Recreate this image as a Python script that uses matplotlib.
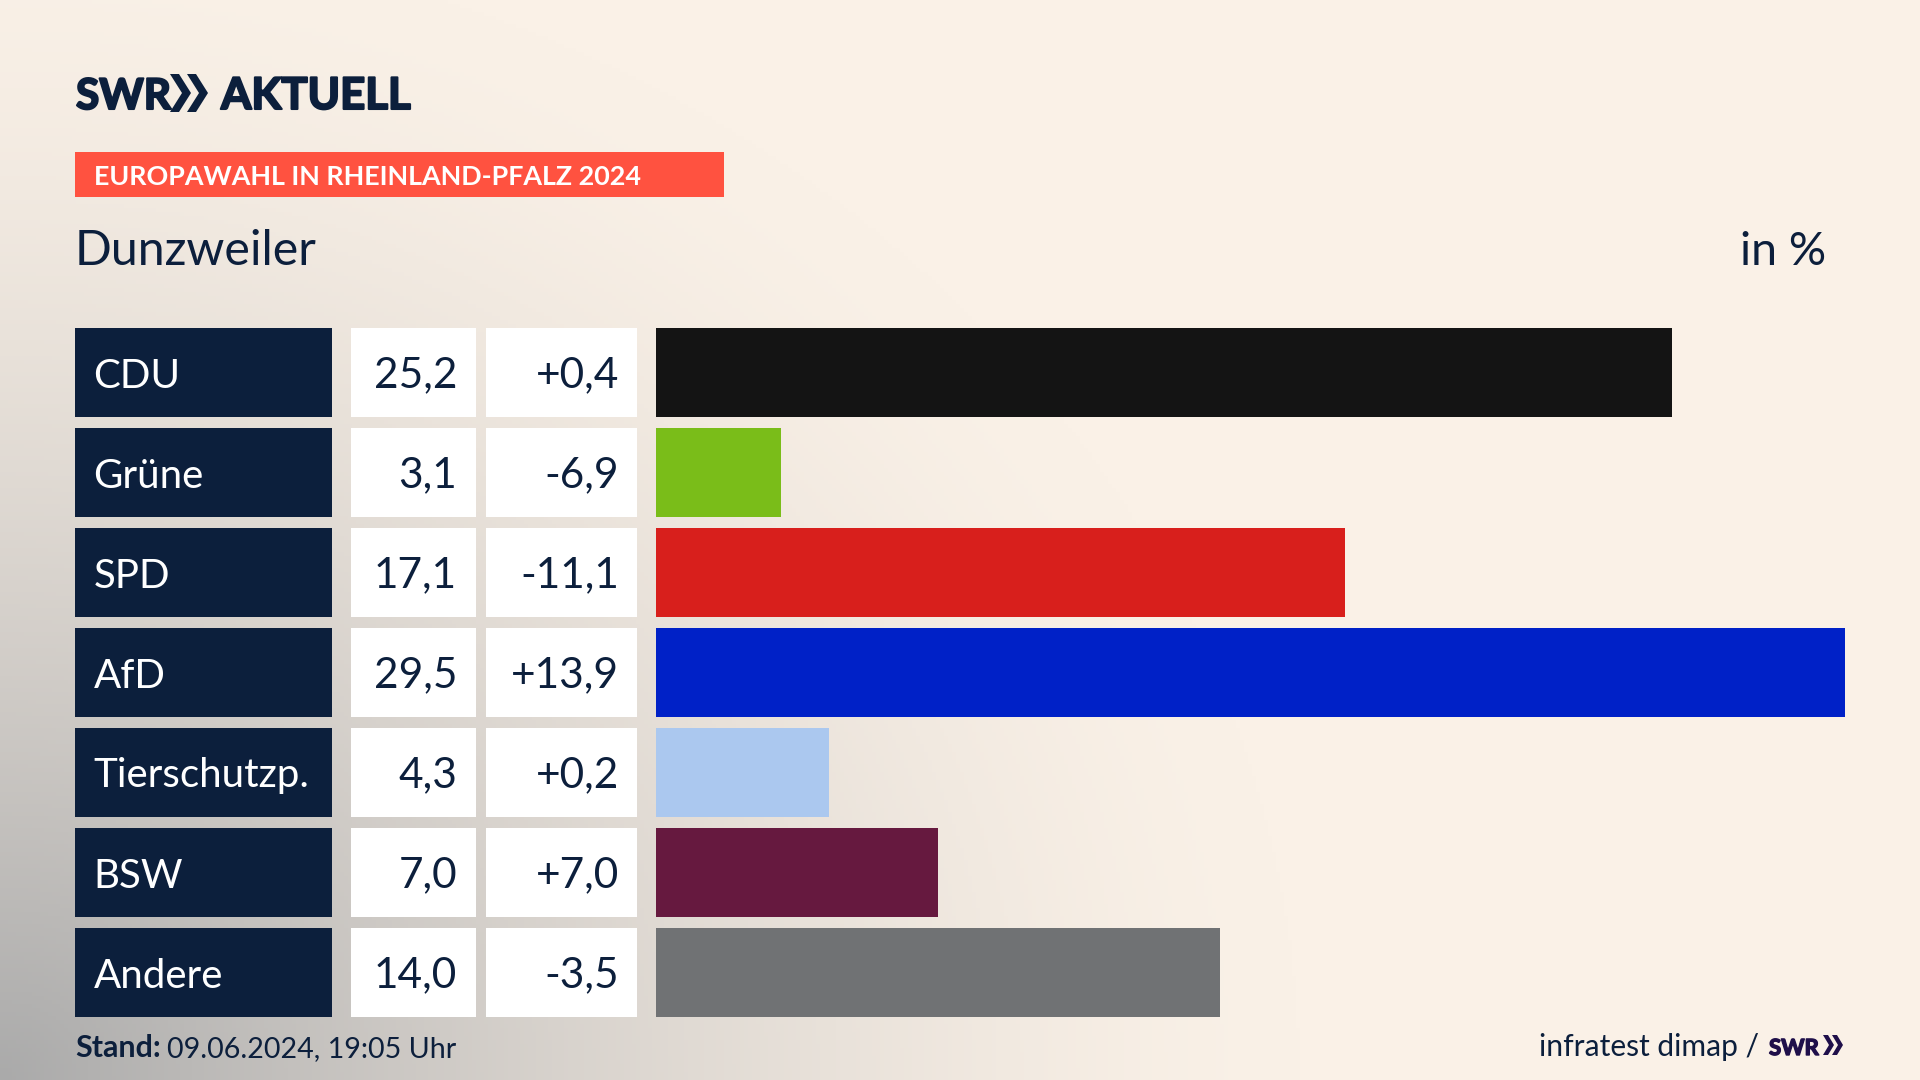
import matplotlib
matplotlib.use('Agg')
import matplotlib.pyplot as plt
import matplotlib.patheffects as pe
import numpy as np
from matplotlib.patches import Polygon, Rectangle

# Daten
parteien = ['CDU', 'Grüne', 'SPD', 'AfD', 'Tierschutzp.', 'BSW', 'Andere']
anteile = [25.2, 3.1, 17.1, 29.5, 4.3, 7.0, 14.0]
differenz = [0.4, -6.9, -11.1, 13.9, 0.2, 7.0, -3.5]
farben = ['#141414', '#7ABD19', '#D81F1C', '#0021C7', '#ABC8EF', '#66193F', '#707274']

titel = 'EUROPAWAHL IN RHEINLAND-PFALZ 2024'
ort = 'Dunzweiler'
einheit = 'in %'
stand_label = 'Stand:'
stand = '09.06.2024, 19:05 Uhr'
quelle = 'infratest dimap /'

NAVY = '#0C1F3C'
LILA = '#1F0F4A'
FONT = ['Lato', 'DejaVu Sans']

def zahl(v, plus=False):
    s = f'{v:+.1f}' if plus else f'{v:.1f}'
    return s.replace('.', ',')

def chevron(ax, x0, y0, w, h, dicke, farbe):
    # Doppelpfeil aus dem Logo
    pts = [(x0, y0), (x0 + dicke, y0), (x0 + w, y0 + h / 2), (x0 + dicke, y0 + h),
           (x0, y0 + h), (x0 + w - dicke, y0 + h / 2)]
    ax.add_patch(Polygon(pts, closed=True, color=farbe, lw=0, zorder=3))

def logo_text(ax, x, y, s, groesse, farbe, dick):
    t = ax.text(x, y, s, family=FONT, weight='bold', fontsize=groesse, color=farbe, va='baseline', zorder=3)
    t.set_path_effects([pe.withStroke(linewidth=dick, foreground=farbe)])

fig = plt.figure(figsize=(19.2, 10.8), dpi=100)
ax = fig.add_axes([0, 0, 1, 1])
ax.set_xlim(0, 1920)
ax.set_ylim(1080, 0)
ax.axis('off')

# Hintergrund: grauer Verlauf von links unten
xx, yy = np.meshgrid(np.linspace(0, 1920, 480), np.linspace(0, 1080, 270))
d = np.sqrt((xx / 1300) ** 2 + ((1080 - yy) / 1150) ** 2)
t = np.clip(1 - d, 0, 1) ** 1.5
creme = np.array([250, 241, 231]) / 255
grau = np.array([170, 170, 170]) / 255
bild = creme + (grau - creme) * t[..., None]
ax.imshow(bild, extent=(0, 1920, 1080, 0), aspect='auto', zorder=0)

# Logo
logo_text(ax, 76, 109, 'SWR', 30.5, NAVY, 1.5)
chevron(ax, 170, 74, 21, 38, 9, NAVY)
chevron(ax, 187, 74, 21, 38, 9, NAVY)
logo_text(ax, 221, 109, 'AKTUELL', 31.5, NAVY, 1.5)

# Titel
ax.add_patch(Rectangle((75, 152), 649, 45, color='#FF5240', lw=0, zorder=2))
ax.text(94, 185, titel, family=FONT, weight='bold', fontsize=19.4, color='white', va='baseline', zorder=3)
ax.text(75, 265, ort, family=FONT, fontsize=34.8, color=NAVY, va='baseline', zorder=3)
ax.text(1826, 265, einheit, family=FONT, fontsize=33.5, color=NAVY, va='baseline', ha='right', zorder=3)

# Zeilen
top0, pitch, hoehe = 328, 100, 88.5
for i, p in enumerate(parteien):
    top = top0 + i * pitch
    base = top + 59.5
    ax.add_patch(Rectangle((75, top), 257, hoehe, color=NAVY, lw=0, zorder=2))
    ax.add_patch(Rectangle((351, top), 125, hoehe, color='white', lw=0, zorder=2))
    ax.add_patch(Rectangle((486, top), 151, hoehe, color='white', lw=0, zorder=2))
    ax.text(93.5, base, p, family=FONT, fontsize=29, color='white', va='baseline', zorder=3)
    ax.text(457, base, zahl(anteile[i]), family=FONT, fontsize=30.5, color=NAVY, va='baseline', ha='right', zorder=3)
    ax.text(619, base, zahl(differenz[i], True), family=FONT, fontsize=30.5, color=NAVY, va='baseline', ha='right', zorder=3)

# Balken in eigener Achse
bx = fig.add_axes([656 / 1920, 1 - (928 + hoehe) / 1080, (1845 - 656) / 1920, (928 + hoehe - 328) / 1080])
bx.patch.set_alpha(0)
y = np.arange(len(parteien))
bx.barh(y, anteile, height=hoehe / pitch, color=farben, lw=0)
bx.set_xlim(0, max(anteile))
bx.set_ylim(len(parteien) - 1 + hoehe / pitch / 2, -hoehe / pitch / 2)
bx.axis('off')

# Fusszeile
ax.text(75, 1057, stand_label, family=FONT, weight='bold', fontsize=22, color=NAVY, va='baseline', zorder=3)
ax.text(167, 1057, stand, family=FONT, fontsize=20.6, color=NAVY, va='baseline', zorder=3)
ax.text(1759, 1056, quelle, family=FONT, fontsize=21.6, color=NAVY, va='baseline', ha='right', zorder=3)
logo_text(ax, 1769, 1055, 'SWR', 16, LILA, 1)
chevron(ax, 1823, 1035, 11, 20, 5, LILA)
chevron(ax, 1832, 1035, 11, 20, 5, LILA)

fig.savefig('out.png', dpi=100)
